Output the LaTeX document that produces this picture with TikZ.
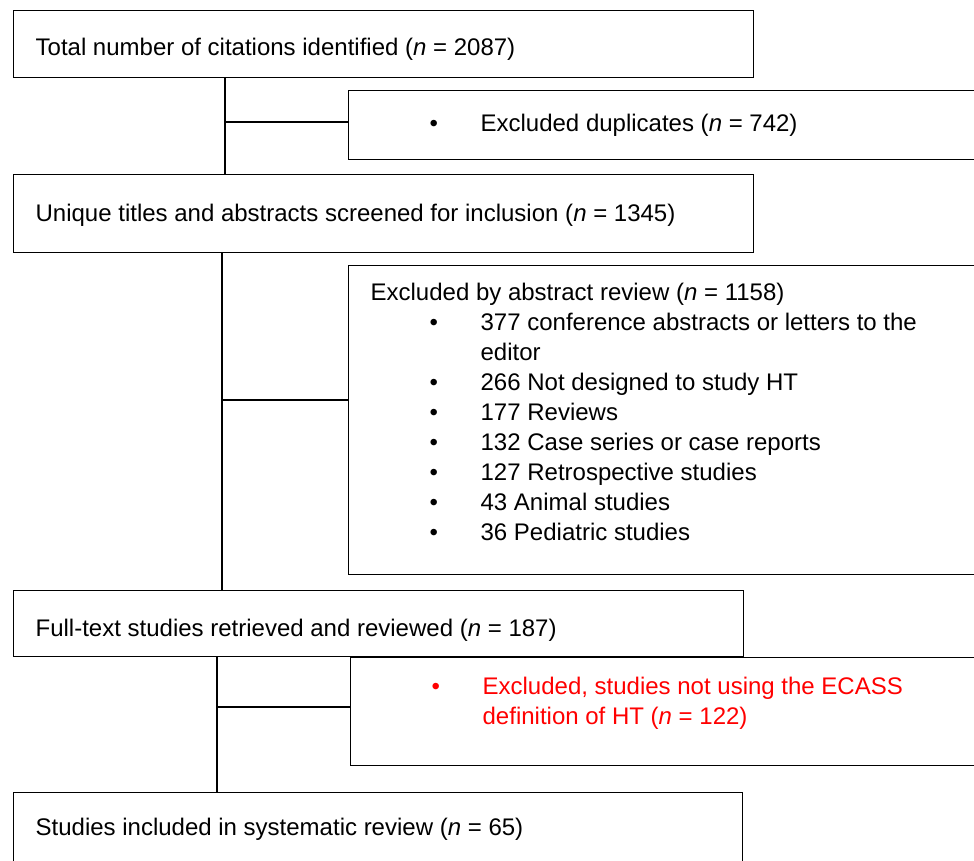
\documentclass[tikz,border=0pt]{standalone}
\usepackage{fontspec}
\setmainfont{Liberation Sans}
\usetikzlibrary{positioning}

% box body: height, width, first baseline, content
\newcommand{\boxtext}[4]{\parbox[t][#1][t]{#2}{\raggedright\rule{0pt}{#3}#4}}
\newcommand{\pitem}[1]{\hangindent=110pt\hangafter=0\noindent\llap{\makebox[51pt][l]{\textbullet}}#1\par}

\tikzset{
  box/.style={draw, line width=1.3pt, rectangle, anchor=north west,
              inner xsep=22pt, inner ysep=0pt, font=\fontsize{24}{30}\selectfont},
  link/.style={line width=2.6pt},
}

\begin{document}
\begin{tikzpicture}[x=1pt, y=-1pt]
\useasboundingbox (0,0) rectangle (974,861);

\node[box] (tot) at (13,10)
  {\boxtext{67pt}{696pt}{45pt}{Total number of citations identified (\textit{n} = 2087)}};
\node[box] (dup) at (348,90)
  {\boxtext{69pt}{581.5pt}{41pt}{\pitem{Excluded duplicates (\textit{n} = 742)}}};
\node[box] (uniq) at (13,174)
  {\boxtext{78pt}{696pt}{47pt}{Unique titles and abstracts screened for inclusion (\textit{n} = 1345)}};
\node[box] (abs) at (348,265)
  {\boxtext{309pt}{581.5pt}{35pt}{Excluded by abstract review (\textit{n} = 1158)\par
   \pitem{377 conference abstracts or letters to the editor}
   \pitem{266 Not designed to study HT}
   \pitem{177 Reviews}
   \pitem{132 Case series or case reports}
   \pitem{127 Retrospective studies}
   \pitem{43 Animal studies}
   \pitem{36 Pediatric studies}}};
\node[box] (full) at (13,590)
  {\boxtext{66pt}{686pt}{46pt}{Full-text studies retrieved and reviewed (\textit{n} = 187)}};
\node[box, text=red] (ecass) at (350,657)
  {\boxtext{108pt}{579.5pt}{37pt}{\pitem{Excluded, studies not using the ECASS definition of HT (\textit{n} = 122)}}};
\node[box] (incl) at (13,792)
  {\boxtext{75pt}{685pt}{43pt}{Studies included in systematic review (\textit{n} = 65)}};

% junctions of the side branches
\coordinate (j1) at (225,122);
\coordinate (j2) at (222,400);
\coordinate (j3) at (217,707);

\draw[link] (j1 |- tot.south) -- (j1 |- uniq.north);
\draw[link] (j1) -- (j1 -| dup.west);
\draw[link] (j2 |- uniq.south) -- (j2 |- full.north);
\draw[link] (j2) -- (j2 -| abs.west);
\draw[link] (j3 |- full.south) -- (j3 |- incl.north);
\draw[link] (j3) -- (j3 -| ecass.west);
\end{tikzpicture}
\end{document}
